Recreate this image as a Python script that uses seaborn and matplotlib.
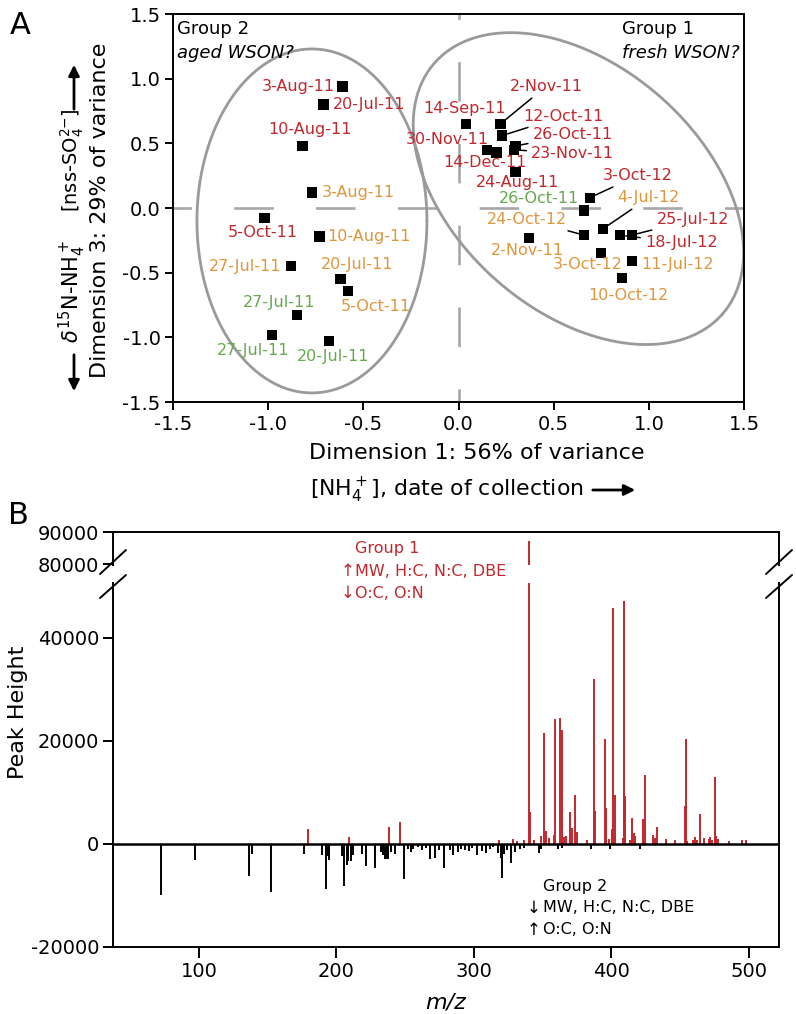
import numpy as np
import matplotlib
matplotlib.use("Agg")
import matplotlib.pyplot as plt
from matplotlib.lines import Line2D
import seaborn as sns

# ---------------- panel A: MDS scores ----------------
dates = ["3-Aug-11", "20-Jul-11", "10-Aug-11", "3-Aug-11", "5-Oct-11", "10-Aug-11",
         "27-Jul-11", "20-Jul-11", "5-Oct-11", "27-Jul-11", "27-Jul-11", "20-Jul-11",
         "14-Sep-11", "2-Nov-11", "12-Oct-11", "30-Nov-11", "14-Dec-11", "26-Oct-11",
         "23-Nov-11", "24-Aug-11", "3-Oct-12", "26-Oct-11", "4-Jul-12", "24-Oct-12",
         "2-Nov-11", "25-Jul-12", "18-Jul-12", "3-Oct-12", "11-Jul-12", "10-Oct-12"]
dim1 = [-0.61, -0.71, -0.82, -0.77, -1.02, -0.73, -0.88, -0.62, -0.58, -0.85, -0.98, -0.68,
        0.04, 0.22, 0.23, 0.15, 0.20, 0.30, 0.29, 0.30, 0.69, 0.66, 0.76, 0.66,
        0.37, 0.91, 0.85, 0.75, 0.91, 0.86]
dim3 = [0.94, 0.80, 0.48, 0.12, -0.08, -0.22, -0.45, -0.55, -0.64, -0.83, -0.98, -1.03,
        0.65, 0.65, 0.56, 0.45, 0.43, 0.48, 0.45, 0.28, 0.08, -0.02, -0.16, -0.21,
        -0.23, -0.21, -0.21, -0.35, -0.41, -0.54]
sample_set = ["r", "r", "r", "o", "r", "o", "o", "o", "o", "g", "g", "g",
              "r", "r", "r", "r", "r", "r", "r", "r", "r", "g", "o", "o",
              "o", "r", "r", "o", "o", "o"]

# label placement (x, y, ha, leader line)
label_pos = [(-0.65, 0.94, "right", 0), (-0.66, 0.80, "left", 0), (-0.78, 0.61, "center", 0),
             (-0.72, 0.12, "left", 0), (-1.03, -0.19, "center", 0), (-0.69, -0.22, "left", 0),
             (-0.93, -0.45, "right", 0), (-0.53, -0.435, "center", 0), (-0.62, -0.76, "left", 0),
             (-0.94, -0.73, "center", 0), (-1.08, -1.10, "center", 0), (-0.66, -1.145, "center", 0),
             (0.03, 0.77, "center", 0), (0.46, 0.94, "center", 1), (0.55, 0.71, "center", 1),
             (-0.06, 0.53, "center", 0), (0.14, 0.35, "center", 0), (0.60, 0.565, "center", 1),
             (0.60, 0.42, "center", 1), (0.31, 0.20, "center", 0), (0.94, 0.25, "center", 1),
             (0.425, 0.07, "center", 0), (1.00, 0.08, "center", 1), (0.36, -0.09, "center", 1),
             (0.36, -0.325, "center", 0), (1.23, -0.09, "center", 1), (1.17, -0.27, "center", 1),
             (0.68, -0.435, "center", 0), (1.15, -0.435, "center", 0), (0.89, -0.68, "center", 0)]

# ---------------- panel B: difference spectrum ----------------
mz_g1 = [179.0, 209.1, 238.2, 246.0, 318.3, 328.8, 331.5, 336.2, 340.0, 341.2, 343.9, 349.2,
         351.4, 352.4, 354.5, 358.0, 358.9, 362.5, 363.8, 365.5, 367.4, 370.3, 371.5, 373.5,
         374.7, 382.4, 387.3, 388.2, 395.3, 396.3, 398.5, 400.2, 401.3, 402.4, 408.4, 409.3,
         410.3, 413.5, 415.4, 416.6, 417.6, 423.1, 424.4, 430.4, 431.6, 433.3, 439.6, 446.7,
         453.5, 454.7, 455.4, 459.5, 460.7, 462.4, 464.4, 467.3, 471.2, 472.1, 473.6, 475.3,
         476.5, 477.7, 485.7, 495.4, 498.3]
ht_g1 = [2900, 1350, 3300, 4200, 700, 900, 500, 750, 87200, 6200, 800, 1500,
         21500, 2500, 1200, 1800, 24300, 24500, 22100, 1400, 1600, 6200, 3000, 9500,
         2300, 700, 32000, 6300, 20400, 7000, 900, 2900, 45700, 9500, 1200, 47200,
         9200, 800, 5000, 2200, 1500, 4900, 13300, 1700, 1100, 3300, 900, 700,
         7400, 20300, 600, 700, 1400, 800, 5800, 1100, 900, 1300, 700, 13000,
         1500, 900, 500, 700, 800]
mz_g2 = [72.4, 97.1, 136.1, 138.3, 152.1, 176.1, 189.9, 192.1, 193.6, 194.5, 204.2, 205.7,
         207.4, 208.6, 210.3, 212.2, 218.3, 221.9, 228.2, 232.4, 234.0, 235.3, 236.5, 237.7,
         239.4, 242.3, 249.1, 252.4, 254.0, 256.0, 259.7, 262.0, 265.0, 268.4, 271.6, 275.0,
         278.2, 282.5, 285.0, 288.6, 291.0, 293.5, 296.6, 299.0, 302.0, 305.6, 308.7, 311.6,
         314.0, 317.7, 319.4, 320.4, 321.8, 324.0, 326.9, 329.8, 333.5, 336.4, 347.3, 348.7,
         361.3, 364.4, 385.0, 398.9, 420.7]
ht_g2 = [-9900, -3200, -6300, -1900, -9400, -2000, -2100, -8700, -2400, -3200, -2400, -8100,
         -4000, -3400, -3400, -2100, -1900, -4200, -4700, -1500, -2100, -2900, -3000, -3000,
         -1500, -1900, -6800, -1000, -1500, -900, -700, -1200, -800, -3000, -2700, -1200,
         -4700, -1200, -2100, -1500, -900, -1100, -1400, -800, -2200, -1300, -1800, -1000,
         -600, -1700, -2700, -6700, -2000, -1200, -3700, -1500, -1000, -800, -1700, -900,
         -900, -800, -900, -900, -900]

RED = "#C1272D"
ORANGE = "#E0963C"
GREEN = "#66A84E"
GREY = "#a8a8a8"
set_colors = {"r": RED, "o": ORANGE, "g": GREEN}

sns.set_style("ticks")
plt.rcParams["font.family"] = ["DejaVu Sans"]
plt.rcParams["axes.unicode_minus"] = False
plt.rcParams["axes.linewidth"] = 1.4
plt.rcParams["axes.edgecolor"] = "black"
plt.rcParams["text.color"] = "black"
plt.rcParams["axes.labelcolor"] = "black"
plt.rcParams["xtick.color"] = "black"
plt.rcParams["ytick.color"] = "black"
plt.rcParams["xtick.major.width"] = 1.4
plt.rcParams["ytick.major.width"] = 1.4

W, H = 796, 1014
fig = plt.figure(figsize=(W / 100, H / 100), dpi=100)


def fx(px):
    return px / W


def fy(py):
    return 1 - py / H


# ---------------- panel A ----------------
axA = fig.add_axes([fx(173), fy(402), fx(744) - fx(173), fy(14) - fy(402)])
axA.set_xlim(-1.5, 1.5)
axA.set_ylim(-1.5, 1.5)
sx = (744 - 173) / 3.0   # px per unit
sy = (402 - 14) / 3.0

axA.axhline(0, color=GREY, lw=1.9, ls=(8, (15, 16)), zorder=1)
axA.axvline(0, color=GREY, lw=1.9, ls=(10, (15, 16)), zorder=1)


def ellipse(cx, cy, a_px, b_px, ang):
    t = np.linspace(0, 2 * np.pi, 300)
    u, v = a_px * np.cos(t), b_px * np.sin(t)
    r = np.deg2rad(ang)
    X = u * np.cos(r) - v * np.sin(r)
    Y = u * np.sin(r) + v * np.cos(r)
    return cx + X / sx, cy + Y / sy


ex, ey = ellipse(-0.77, -0.10, 115, 172, 0)
axA.plot(ex, ey, color="#9a9a9a", lw=2.0, zorder=1)
ex, ey = ellipse(0.63, 0.15, 191, 123, -41)
axA.plot(ex, ey, color="#9a9a9a", lw=2.0, zorder=1)

sns.scatterplot(x=dim1, y=dim3, marker="s", color="black", s=55, edgecolor="none",
                ax=axA, zorder=3, legend=False)

for d, x, y, s, (lx, ly, ha, lead) in zip(dates, dim1, dim3, sample_set, label_pos):
    if lead:
        axA.annotate(d, xy=(x, y), xytext=(lx, ly), ha=ha, va="center", fontsize=11.5,
                     color=set_colors[s],
                     arrowprops=dict(arrowstyle="-", color="black", lw=1.1,
                                     shrinkA=1, shrinkB=4))
    else:
        axA.text(lx, ly, d, ha=ha, va="center", fontsize=11.5, color=set_colors[s])

ticksA = [-1.5, -1.0, -0.5, 0.0, 0.5, 1.0, 1.5]
axA.set_xticks(ticksA, [f"{t:.1f}" for t in ticksA])
axA.set_yticks(ticksA, [f"{t:.1f}" for t in ticksA])
axA.tick_params(labelsize=14, length=6, pad=3)

fig.text(fx(177), fy(29), "Group 2", fontsize=13, va="center")
fig.text(fx(177), fy(53), "aged WSON?", fontsize=13, va="center", style="italic")
fig.text(fx(622), fy(29), "Group 1", fontsize=13, va="center")
fig.text(fx(622), fy(53), "fresh WSON?", fontsize=13, va="center", style="italic")

fig.text(fx(477), fy(453), "Dimension 1: 56% of variance", fontsize=16, ha="center", va="center")
fig.text(fx(310), fy(490), r"[NH$_4^+$], date of collection", fontsize=15.8,
         ha="left", va="center")
fig.text(fx(100), fy(210), "Dimension 3: 29% of variance", fontsize=16, ha="center",
         va="center", rotation=90)
fig.text(fx(72), fy(292), r"$\delta^{15}$N-NH$_4^+$", fontsize=15, ha="center",
         va="center", rotation=90)
fig.text(fx(72), fy(160), r"[nss-SO$_4^{2\mathrm{-}}$]", fontsize=14, ha="center",
         va="center", rotation=90)
arrow_kw = dict(arrowstyle="-|>", color="black", lw=2.0, mutation_scale=16)
for (x0, y0, x1, y1) in [(590, 490, 638, 490), (74, 112, 74, 62), (74, 352, 74, 394)]:
    fig.add_artist(matplotlib.patches.FancyArrowPatch((fx(x0), fy(y0)), (fx(x1), fy(y1)),
                                                      transform=fig.transFigure, **arrow_kw))

fig.text(fx(20), fy(26), "A", fontsize=22, ha="center", va="center")
fig.text(fx(18), fy(516), "B", fontsize=22, ha="center", va="center")

# ---------------- panel B ----------------
axT = fig.add_axes([fx(113), fy(565), fx(779) - fx(113), fy(532) - fy(565)])
axB = fig.add_axes([fx(113), fy(947), fx(779) - fx(113), fy(583) - fy(947)])
for ax in (axT, axB):
    ax.vlines(mz_g1, 0, ht_g1, color=RED, lw=1.4)
    ax.vlines(mz_g2, 0, ht_g2, color="black", lw=1.4)
    ax.set_xlim(37.5, 522)
    ax.tick_params(labelsize=14, length=7, pad=3)
axB.axhline(0, color="black", lw=1.8)
axT.set_ylim(79700, 90000)
axB.set_ylim(-20000, 50600)
axT.set_yticks([80000, 90000])
axT.set_xticks([])
axT.spines["bottom"].set_visible(False)
axB.spines["top"].set_visible(False)
axB.set_yticks([-20000, 0, 20000, 40000])
axB.set_xticks([100, 200, 300, 400, 500])
axB.tick_params(axis="x", length=8)
axB.set_xlabel("m/z", fontsize=16, style="italic", labelpad=8)
fig.text(fx(18), fy(712), "Peak Height", fontsize=16, ha="center", va="center", rotation=90)

# axis break marks
for xc in (113, 779):
    for (y0, y1) in [(574, 550), (598, 575)]:
        fig.add_artist(Line2D([fx(xc - 13), fx(xc + 13)], [fy(y0), fy(y1)],
                              transform=fig.transFigure, color="black", lw=1.4))

# group annotations
fig.text(fx(355), fy(549), "Group 1", fontsize=11.5, color=RED, va="center")
fig.text(fx(355), fy(571), "MW, H:C, N:C, DBE", fontsize=11.5, color=RED, va="center")
fig.text(fx(355), fy(593), "O:C, O:N", fontsize=11.5, color=RED, va="center")
fig.text(fx(348), fy(571), "\u2191", fontsize=12, color=RED, ha="center", va="center")
fig.text(fx(348), fy(593), "\u2193", fontsize=12, color=RED, ha="center", va="center")

fig.text(fx(543), fy(887), "Group 2", fontsize=11.5, color="black", va="center")
fig.text(fx(543), fy(908), "MW, H:C, N:C, DBE", fontsize=11.5, color="black", va="center")
fig.text(fx(543), fy(930), "O:C, O:N", fontsize=11.5, color="black", va="center")
fig.text(fx(534), fy(908), "\u2193", fontsize=12, color="black", ha="center", va="center")
fig.text(fx(534), fy(930), "\u2191", fontsize=12, color="black", ha="center", va="center")

fig.savefig("out.png", dpi=100)
